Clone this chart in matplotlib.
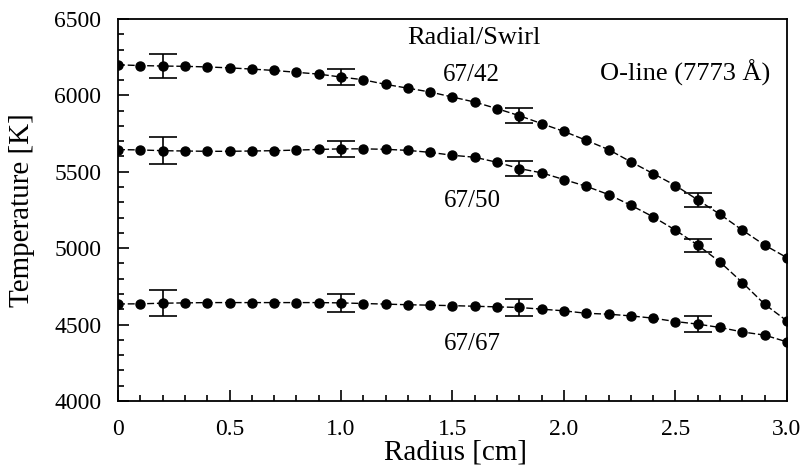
#------------------------------------------------------------------
# O-line (7773 A) temperature profiles vs radius
#------------------------------------------------------------------

import matplotlib.pyplot as plt
import numpy as np
from matplotlib.ticker import MultipleLocator

#============== Data ===============

radius = [0.0, 0.1, 0.2, 0.3, 0.4, 0.5, 0.6, 0.7, 0.8, 0.9, 1.0,
          1.1, 1.2, 1.3, 1.4, 1.5, 1.6, 1.7, 1.8, 1.9, 2.0,
          2.1, 2.2, 2.3, 2.4, 2.5, 2.6, 2.7, 2.8, 2.9, 3.0]

t_6742 = [6200, 6195, 6192, 6190, 6186, 6180, 6172, 6163, 6151, 6139, 6120,
          6102, 6072, 6047, 6022, 5989, 5956, 5913, 5867, 5815, 5764,
          5706, 5645, 5565, 5488, 5410, 5316, 5221, 5118, 5020, 4938]

t_6750 = [5645, 5643, 5638, 5636, 5634, 5634, 5636, 5638, 5642, 5646, 5650,
          5650, 5647, 5640, 5627, 5608, 5595, 5562, 5521, 5493, 5449,
          5405, 5351, 5281, 5205, 5118, 5020, 4909, 4775, 4633, 4524]

t_6767 = [4635, 4636, 4640, 4642, 4644, 4644, 4644, 4644, 4644, 4644, 4642,
          4638, 4634, 4630, 4627, 4624, 4620, 4616, 4612, 4601, 4590,
          4574, 4568, 4557, 4542, 4520, 4503, 4481, 4452, 4431, 4387]

err_r = [0.2, 1.0, 1.8, 2.6]
err_6742 = [79, 54, 48, 48]
err_6750 = [88, 54, 47, 43]
err_6767 = [87, 58, 53, 54]

labels = ['67/42', '67/50', '67/67']

#============== Plot ===============

plt.rcParams['font.family'] = ['Liberation Serif', 'DejaVu Serif']

fig = plt.figure(figsize=(8.05, 4.74), dpi=100)
ax = fig.add_axes([0.1466, 0.154, 0.831, 0.806])

r = np.array(radius)
for temps, errs in [(t_6742, err_6742), (t_6750, err_6750), (t_6767, err_6767)]:
    temps = np.array(temps)
    ax.plot(r, temps, ls=(0, (5, 2)), lw=1.0, c='k',
            marker='o', ms=6.5, mfc='k', mec='k')
    idx = [int(round(x * 10)) for x in err_r]
    ax.errorbar(err_r, temps[idx], yerr=errs, fmt='none', ecolor='k',
                elinewidth=1.2, capsize=10, capthick=1.2)

ax.set_xlim(0, 3.0)
ax.set_ylim(4000, 6500)
ax.xaxis.set_major_locator(MultipleLocator(0.5))
ax.xaxis.set_minor_locator(MultipleLocator(0.1))
ax.yaxis.set_major_locator(MultipleLocator(500))
ax.yaxis.set_minor_locator(MultipleLocator(100))
ax.set_xticks([0, 0.5, 1.0, 1.5, 2.0, 2.5, 3.0])
ax.set_xticklabels(['0', '0.5', '1.0', '1.5', '2.0', '2.5', '3.0'])

ax.tick_params(which='both', direction='in', top=False, right=False,
               labelsize=17, width=1.2)
ax.tick_params(which='major', length=8)
ax.tick_params(axis='x', which='major', pad=13)
ax.tick_params(axis='y', which='major', pad=12)
ax.tick_params(which='minor', length=4.5)
for s in ax.spines.values():
    s.set_linewidth(1.3)

ax.set_xlabel('Radius [cm]', fontsize=21)
ax.set_ylabel('Temperature [K]', fontsize=21)
ax.xaxis.set_label_coords(0.505, -0.1)
ax.yaxis.set_label_coords(-0.124, 0.5)

ax.text(1.596, 6376, 'Radial/Swirl', fontsize=19, ha='center', va='center')
ax.text(1.583, 6134, labels[0], fontsize=18, ha='center', va='center')
ax.text(2.543, 6148, 'O-line (7773 Å)', fontsize=19, ha='center', va='center')
ax.text(1.59, 5307, labels[1], fontsize=18, ha='center', va='center')
ax.text(1.59, 4372, labels[2], fontsize=18, ha='center', va='center')

fig.savefig('out.png', dpi=100)
